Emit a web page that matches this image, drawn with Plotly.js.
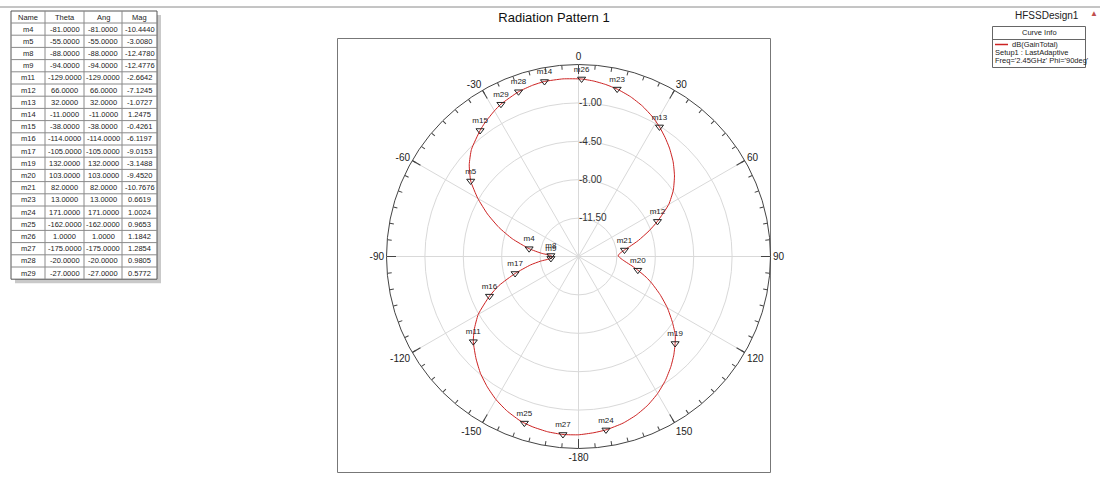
<!DOCTYPE html>
<html>
<head>
<meta charset="utf-8">
<script src="https://cdn.plot.ly/plotly-3.0.1.min.js"></script>
<style>html,body{margin:0;padding:0;background:#fff;}#chart{width:1105px;height:486px;}</style>
</head>
<body>
<div id="chart"></div>
<script>
// ---- Data ----
const curveTheta = [-180,-175,-170,-165,-162,-160,-155,-150,-145,-140,-135,-129,-125,-120,-114,-110,-105,-100,-97,-94,-91,-88,-85,-81,-75,-70,-65,-60,-55,-50,-45,-38,-35,-30,-27,-20,-15,-11,-5,1,5,9,13,18,23,28,32,36,40,45,50,55,60,66,70,75,79,82,86,89,92,96,100,103,107,110,115,120,125,129,132,136,140,145,150,155,160,165,171,175,180];
const curveGain = [1.25,1.285,1.22,1.08,0.965,0.86,0.50,0.05,-0.50,-1.10,-1.80,-2.66,-3.40,-4.45,-6.12,-7.30,-9.02,-10.55,-11.5,-12.48,-12.62,-12.48,-11.6,-10.44,-8.75,-7.30,-5.85,-4.40,-3.01,-2.00,-1.20,-0.43,-0.12,0.33,0.58,0.98,1.16,1.25,1.25,1.18,1.05,0.87,0.66,0.32,-0.10,-0.60,-1.07,-1.58,-2.10,-2.80,-3.58,-4.45,-5.50,-7.12,-8.15,-9.35,-10.25,-10.77,-11.25,-11.38,-11.2,-10.75,-10.05,-9.45,-8.55,-7.90,-6.80,-5.65,-4.55,-3.65,-3.15,-2.50,-1.90,-1.20,-0.58,-0.05,0.38,0.72,1.00,1.12,1.25];

const markerNames = ['m4','m5','m8','m9','m11','m12','m13','m14','m15','m16','m17','m19','m20','m21','m23','m24','m25','m26','m27','m28','m29'];
const markerTheta = [-81,-55,-88,-94,-129,66,32,-11,-38,-114,-105,132,103,82,13,171,-162,1,-175,-20,-27];
const markerMag = [-10.4440,-3.0080,-12.4780,-12.4776,-2.6642,-7.1245,-1.0727,1.2475,-0.4261,-6.1197,-9.0153,-3.1488,-9.4520,-10.7676,0.6619,1.0024,0.9653,1.1842,1.2854,0.9805,0.5772];

const tableHeaders = ['Name','Theta','Ang','Mag'];

const angTickVals = [0,30,60,90,120,150,180,210,240,270,300,330];
const angTickText = ['0','30','60','90','120','150','-180','-150','-120','-90','-60','-30'];
const radTickVals = [-11.5,-8,-4.5,-1];
const radTickText = ['-11.50','-8.00','-4.50','-1.00'];
const minorTickVals = [];
for (let a = 0; a < 360; a += 5) minorTickVals.push(a);

const titleText = 'Radiation Pattern 1';
const designName = 'HFSSDesign1';
const legendHeader = 'Curve Info';
const legendLines = ['dB(GainTotal)', 'Setup1 : LastAdaptive', "Freq='2.45GHz' Phi='90deg'"];

// ---- Layout helpers ----
const W = 1105, H = 486;
const X = p => p / W;
const Y = p => 1 - p / H;
const FONT = 'Liberation Sans, Arial, sans-serif';

const cx = 578.5, cyTop = 256.5, R = 192;
const domX = [X(cx - R), X(cx + R)];
const domY = [(H - cyTop - R) / H, (H - cyTop + R) / H];

const shapes = [];
const annotations = [];

// top rule
shapes.push({type:'line', xref:'paper', yref:'paper', x0:0, x1:X(1100), y0:Y(7), y1:Y(7), line:{color:'#8a8a8a', width:1}});
// plot frame
shapes.push({type:'rect', xref:'paper', yref:'paper', x0:X(337.5), x1:X(770.5), y0:Y(38.5), y1:Y(472.5), line:{color:'#777', width:1}, layer:'below'});

// ---- Marker table ----
const colEdges = [11, 45, 84, 122, 157];
const tTop = 11, headH = 12, rowH = 12.2;
const tBottom = tTop + headH + rowH * markerNames.length;
shapes.push({type:'rect', xref:'paper', yref:'paper', x0:X(colEdges[0]+4), x1:X(colEdges[4]+4), y0:Y(tTop+4), y1:Y(tBottom+4), fillcolor:'#c9c9c9', line:{width:0}, layer:'below'});
shapes.push({type:'rect', xref:'paper', yref:'paper', x0:X(colEdges[0]), x1:X(colEdges[4]), y0:Y(tTop), y1:Y(tBottom), fillcolor:'#ffffff', line:{color:'#555', width:1}, layer:'below'});
for (let i = 1; i < colEdges.length - 1; i++) {
  shapes.push({type:'line', xref:'paper', yref:'paper', x0:X(colEdges[i]), x1:X(colEdges[i]), y0:Y(tTop), y1:Y(tBottom), line:{color:'#8a8a8a', width:1}});
}
for (let r = 0; r < markerNames.length; r++) {
  const yy = tTop + headH + rowH * r;
  shapes.push({type:'line', xref:'paper', yref:'paper', x0:X(colEdges[0]), x1:X(colEdges[4]), y0:Y(yy), y1:Y(yy), line:{color:'#8a8a8a', width:1}});
}
function cellText(txt, col, yc) {
  annotations.push({xref:'paper', yref:'paper', x:X((colEdges[col]+colEdges[col+1])/2), y:Y(yc), text:txt, showarrow:false, xanchor:'center', yanchor:'middle', font:{family:FONT, size:7.5, color:'#222'}});
}
tableHeaders.forEach((h, c) => cellText(h, c, tTop + headH/2));
markerNames.forEach((n, r) => {
  const yc = tTop + headH + rowH * r + rowH/2;
  cellText(n, 0, yc);
  cellText(markerTheta[r].toFixed(4), 1, yc);
  cellText(markerTheta[r].toFixed(4), 2, yc);
  cellText(markerMag[r].toFixed(4), 3, yc);
});

// ---- Design name & curve info box ----
annotations.push({xref:'paper', yref:'paper', x:X(1047), y:Y(15), text:designName, showarrow:false, xanchor:'center', yanchor:'middle', font:{family:FONT, size:10, color:'#222'}});
annotations.push({xref:'paper', yref:'paper', x:X(1094), y:Y(13), text:'▲', showarrow:false, xanchor:'center', yanchor:'middle', font:{family:FONT, size:8, color:'#c0504d'}});
shapes.push({type:'rect', xref:'paper', yref:'paper', x0:X(992.5), x1:X(1085.5), y0:Y(26.5), y1:Y(67.5), fillcolor:'#ffffff', line:{color:'#666', width:1}});
shapes.push({type:'line', xref:'paper', yref:'paper', x0:X(992.5), x1:X(1085.5), y0:Y(39.5), y1:Y(39.5), line:{color:'#666', width:1}});
shapes.push({type:'line', xref:'paper', yref:'paper', x0:X(995), x1:X(1008), y0:Y(44.5), y1:Y(44.5), line:{color:'#cc2222', width:1.5}});
annotations.push({xref:'paper', yref:'paper', x:X(1039), y:Y(33), text:legendHeader, showarrow:false, xanchor:'center', yanchor:'middle', font:{family:FONT, size:7.5, color:'#222'}});
annotations.push({xref:'paper', yref:'paper', x:X(1011), y:Y(44.5), text:legendLines[0], showarrow:false, xanchor:'left', yanchor:'middle', borderpad:0, font:{family:FONT, size:7.5, color:'#222'}});
annotations.push({xref:'paper', yref:'paper', x:X(994), y:Y(52.5), text:legendLines[1], showarrow:false, xanchor:'left', yanchor:'middle', borderpad:0, font:{family:FONT, size:7.5, color:'#222'}});
annotations.push({xref:'paper', yref:'paper', x:X(994), y:Y(60.5), text:legendLines[2], showarrow:false, xanchor:'left', yanchor:'middle', borderpad:0, font:{family:FONT, size:7.5, color:'#222'}});

// ---- Traces ----
const traces = [
  {type:'scatterpolar', subplot:'polar', mode:'lines', r:curveGain, theta:curveTheta, line:{color:'#cc2222', width:1, shape:'spline', smoothing:0.5}, hoverinfo:'skip', showlegend:false},
  {type:'scatterpolar', subplot:'polar', mode:'markers+text', r:markerMag, theta:markerTheta, text:markerNames, textposition:'top center',
   textfont:{family:FONT, size:8, color:'#222222'}, marker:{symbol:'triangle-down-open', size:7, color:'#222', line:{width:1, color:'#222'}}, hoverinfo:'skip', showlegend:false, cliponaxis:false},
  {type:'scatterpolar', subplot:'polar2', mode:'markers', r:[-15], theta:[0], marker:{opacity:0}, hoverinfo:'skip', showlegend:false}
];

const layout = {
  width: W, height: H,
  margin: {l:0, r:0, t:0, b:0},
  paper_bgcolor: '#ffffff',
  showlegend: false,
  title: {text: titleText, x: X(554), y: Y(17), xref:'paper', yref:'paper', xanchor:'center', yanchor:'middle', font:{family:FONT, size:13, color:'#111'}},
  polar: {
    domain: {x: domX, y: domY},
    bgcolor: 'rgba(0,0,0,0)',
    angularaxis: {
      rotation: 90, direction: 'clockwise', thetaunit:'degrees',
      tickmode:'array', tickvals: angTickVals, ticktext: angTickText,
      ticks:'inside', ticklen: 9, tickcolor:'#444', tickwidth:1,
      showline:true, linecolor:'#444', linewidth:1,
      showgrid:true, gridcolor:'#d9d9d9', gridwidth:1,
      tickfont:{family:FONT, size:10, color:'#222'}
    },
    radialaxis: {
      range:[-15, 2.5], tickmode:'array', tickvals: radTickVals, ticktext: radTickText,
      angle: 90, side:'clockwise', tickangle: 90,
      showline:false, ticks:'', showgrid:true, gridcolor:'#d9d9d9', gridwidth:1,
      tickfont:{family:FONT, size:10, color:'#333'}
    }
  },
  polar2: {
    domain: {x: domX, y: domY},
    bgcolor: 'rgba(0,0,0,0)',
    angularaxis: {
      rotation: 90, direction: 'clockwise',
      tickmode:'array', tickvals: minorTickVals,
      ticks:'inside', ticklen: 4, tickcolor:'#444', tickwidth:1,
      showline:false, showgrid:false, showticklabels:false
    },
    radialaxis: {visible:false, range:[-15, 2.5], showgrid:false}
  },
  shapes: shapes,
  annotations: annotations
};

Plotly.newPlot('chart', traces, layout, {staticPlot:true, displayModeBar:false});
</script>
</body>
</html>
